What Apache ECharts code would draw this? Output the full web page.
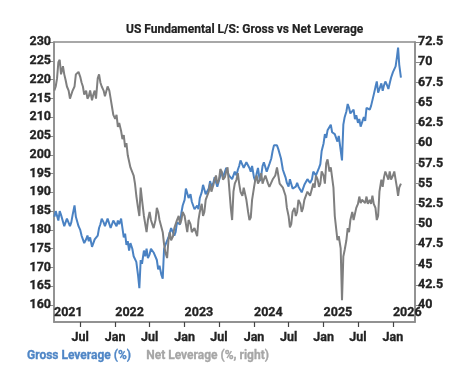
<!DOCTYPE html>
<html>
<head>
<meta charset="utf-8">
<script src="https://cdn.jsdelivr.net/npm/echarts@6/dist/echarts.min.js"></script>
<style>
  html, body { margin: 0; padding: 0; background: #fff; }
  #chart { width: 459px; height: 375px; }
</style>
</head>
<body>
<div id="chart"></div>
<script>
// weekly-ish readings: days 1, 8, 15, 22 of each month
const lastDays = ['2026-01-01','2026-01-08','2026-01-15','2026-01-22','2026-01-28','2026-02-03','2026-02-12']

const grossLeverage = [
  // 2021 (from Feb 15)
  183.5,185,
  184.5,182.5,185,184,  183.5,181,180.5,183,  182.5,181,182,184,  186.5,183.5,183,181,
  180,178.5,178,176.5,  177.5,178.5,177,178,  175.5,176.5,177.5,177,  178.5,180.5,181.5,183,
  182,181,181.5,183,  182.5,180.5,181,182.5,
  // 2022
  182,181,182.5,181.5,  183,180.5,178,179,  176,177,174.5,176.5,  175,173,172.5,171.5,
  168,164.5,172,171,  174.5,173,175,172.5,  173.5,175,175.5,174,  174.5,172,169.5,170.5,
  168,167,175,176,  176.5,178,178.5,180.5,  180,178.5,179.5,182,  182.5,181.5,184.5,186.5,
  // 2023
  188,191,190.5,188.5,  189.5,187.5,187,185.5,  185,186.5,185.5,188.5,  190,192,191.5,189.5,
  189,191,193,191.5,  192.5,194,193.5,191.5,  192,194.5,195.5,194,  194.5,196.5,196,194.5,
  195,193.5,194,195.5,  194.5,196,197,198.5,  199,196.5,197,198,  198.5,196.5,195.5,197,
  // 2024
  194,193,195,196.5,  193,194.5,197,198,  197.5,195.5,196,197.5,  199,201,202.5,203,
  202.5,201.5,201,199,  196,195,194,192.5,  191.5,193.5,193,191,  190.5,191.5,192.5,191.5,
  191,190,190.5,192,  192.5,193.5,194,192.5,  193.5,195.5,196,194.5,  195,196.5,197.5,201,
  // 2025
  203,205.5,204.5,206.5,  207,208,206,206.5,  205.5,205,203.5,205,  204.5,198.5,208,210,
  211.5,213.5,212.5,211,  211.5,212,209.5,210.5,  208.5,209.5,207.5,208,  210,209,212.5,212,
  212,213,213.5,216,  218,219.5,216.5,217,  219,217,218.5,219.5,  218.5,217.5,219,220.5,
  // 2026
  222,221.5,223.5,226,228.5,224,220.5
]

const netLeverage = [
  // 2021 (from Feb 15)
  66.5,67,
  68,70,70.3,68.5,  69.5,68.5,67.8,67,  66.5,65.5,65.5,66.5,  67,68.5,68.5,68.8,
  68.2,67.5,67,66,  66.5,65.5,65.8,66.5,  65.3,66,66.5,65.5,  68,68.5,67.5,67,
  66.5,65.8,66,67,  66.5,65.5,64.5,63.5,
  // 2022
  63,63.5,62,62.5,  61.5,60.5,61,59.5,  60,58.5,58.5,57,  57,56,55,53.5,
  52,51,54.5,53,  51,50,49,50.5,  51.5,50.5,50,49.5,  50.5,52,51.5,50.5,
  50.5,49,47.5,46.5,  45.8,48,49,48,  48.5,49.5,49.5,50.5,  51,50,50.5,51.5,
  // 2023
  51,50,49,50.5,  50,49,48.8,49.5,  49.5,48.5,50.5,51.5,  52.5,51,51.5,53,
  53,54,55,54,  54.8,55.5,56,55,  55.5,56.8,56.5,55.5,  55.8,56.5,57,55,
  52,50.5,54,55,  55.5,56.3,55,54,  53.5,54.5,54.5,53,  51.5,50.5,50.8,53,
  // 2024
  54.5,55.5,56,55,  55.5,56.3,55,55.5,  56,55.5,55,54.6,  54.8,55.5,55.5,56,
  57,56,55,54.8,  54.5,54,53.5,52,  51,49.6,50,51.5,  52,51,51.5,53,
  52.5,51.5,52,53,  53,54,54,53.5,  53.5,55,54.5,56,  55.5,54.6,55,56.5,
  // 2025
  56,55,57.5,58,  56.5,57,57,54.5,  51,49.5,48,48.5,  47,40.6,46,46.8,
  48,49.5,49,50.5,  51.5,50.5,50.5,52,  52.5,53.4,52.6,53,  53,52.6,53.4,52.5,
  53,52.5,53.5,52.5,  52,50.5,51,54,  55.5,54.6,55.8,56.5,  56.3,55.5,56.5,55.5,
  // 2026
  56,56.5,55.5,54.5,53.5,54.5,55
]

const leftTicks = [160, 165, 170, 175, 180, 185, 190, 195, 200, 205, 210, 215, 220, 225, 230]
const rightTicks = [40, 42.5, 45, 47.5, 50, 52.5, 55, 57.5, 60, 62.5, 65, 67.5, 70, 72.5]
const years = [2022, 2023, 2024, 2025, 2026]

const toTime = s => {
  const p = s.split('-').map(Number)
  return new Date(p[0], p[1] - 1, p[2]).getTime()
}

// calendar for the readings
const dates = ['2021-02-15', '2021-02-22']
for (let y = 2021; y <= 2025; y++) {
  for (let m = (y === 2021 ? 3 : 1); m <= 12; m++) {
    [1, 8, 15, 22].forEach(d => {
      dates.push(y + '-' + String(m).padStart(2, '0') + '-' + String(d).padStart(2, '0'))
    })
  }
}
lastDays.forEach(d => dates.push(d))
if (dates.length !== grossLeverage.length || dates.length !== netLeverage.length) {
  throw new Error('length mismatch ' + dates.length + ' ' + grossLeverage.length + ' ' + netLeverage.length)
}

const xMin = new Date(2021, 1, 13).getTime()
const xMax = new Date(2026, 3, 27).getTime()

const monthTicks = []
for (let y = 2021; y <= 2026; y++) {
  [0, 6].forEach(m => {
    const t = new Date(y, m, 1).getTime()
    if (t > xMin && t < xMax) monthTicks.push(t)
  })
}
const yearTicks = [xMin].concat(years.map(y => new Date(y, 0, 1).getTime()))

const font = "Roboto, sans-serif"
const labelStyle = {
  color: '#222', fontWeight: 'bold', fontSize: 12.5, fontFamily: font,
  textBorderColor: '#222', textBorderWidth: 0.3
}

const chart = echarts.init(document.getElementById('chart'))

chart.setOption({
  animation: false,
  title: {
    text: 'US Fundamental L/S: Gross vs Net Leverage',
    left: 121,
    top: 19,
    textStyle: {
      color: '#222', fontWeight: 'bold', fontSize: 12, fontFamily: font,
      textBorderColor: '#222', textBorderWidth: 0.2
    }
  },
  legend: {
    left: 16,
    top: 345,
    itemWidth: 0,
    itemHeight: 0,
    itemGap: 9,
    selectedMode: false,
    data: [
      { name: 'Gross Leverage (%)', textStyle: { color: '#4f86c6', textBorderColor: '#4f86c6' } },
      { name: 'Net Leverage (%, right)', textStyle: { color: '#a6a6a6', textBorderColor: '#a6a6a6' } }
    ],
    textStyle: { fontWeight: 'bold', fontSize: 12, fontFamily: font, textBorderWidth: 0.3 }
  },
  grid: {
    left: 54,
    right: 44,
    top: 42,
    bottom: 53,
    show: true,
    borderColor: '#8c8c8c',
    borderWidth: 1.5
  },
  xAxis: [
    {
      type: 'value',
      min: xMin,
      max: xMax,
      axisLine: { show: true, lineStyle: { color: '#8c8c8c', width: 1.5 } },
      axisTick: { show: true, customValues: monthTicks, length: 5, lineStyle: { color: '#444', width: 1.2 } },
      axisLabel: Object.assign({}, labelStyle, {
        customValues: monthTicks,
        margin: 9,
        formatter: v => new Date(v).getMonth() === 0 ? 'Jan' : 'Jul'
      }),
      splitLine: { show: false }
    },
    {
      type: 'value',
      position: 'bottom',
      min: xMin,
      max: xMax,
      axisLine: { show: false },
      axisTick: { show: false },
      axisLabel: Object.assign({}, labelStyle, {
        inside: true,
        margin: 3,
        align: 'left',
        customValues: yearTicks,
        formatter: v => String(new Date(v).getFullYear())
      }),
      splitLine: { show: false }
    }
  ],
  yAxis: [
    {
      type: 'value',
      min: 155.5,
      max: 230,
      axisLine: { show: true, lineStyle: { color: '#8c8c8c', width: 1.5 } },
      axisTick: { show: true, customValues: leftTicks, length: 6, lineStyle: { color: '#8c8c8c' } },
      axisLabel: Object.assign({}, labelStyle, { customValues: leftTicks, margin: 3 }),
      splitLine: { show: false }
    },
    {
      type: 'value',
      min: 37.9,
      max: 72.5,
      position: 'right',
      axisLine: { show: true, lineStyle: { color: '#8c8c8c', width: 1.5 } },
      axisTick: { show: true, customValues: rightTicks, length: 6, lineStyle: { color: '#8c8c8c' } },
      axisLabel: Object.assign({}, labelStyle, { customValues: rightTicks, margin: 3 }),
      splitLine: { show: false }
    }
  ],
  series: [
    {
      name: 'Gross Leverage (%)',
      type: 'line',
      yAxisIndex: 0,
      symbol: 'none',
      color: '#4a82c3',
      lineStyle: { width: 2 },
      data: dates.map((d, i) => [toTime(d), grossLeverage[i]])
    },
    {
      name: 'Net Leverage (%, right)',
      type: 'line',
      yAxisIndex: 1,
      symbol: 'none',
      color: '#7f7f7f',
      lineStyle: { width: 2 },
      data: dates.map((d, i) => [toTime(d), netLeverage[i]])
    }
  ]
})
</script>
</body>
</html>
